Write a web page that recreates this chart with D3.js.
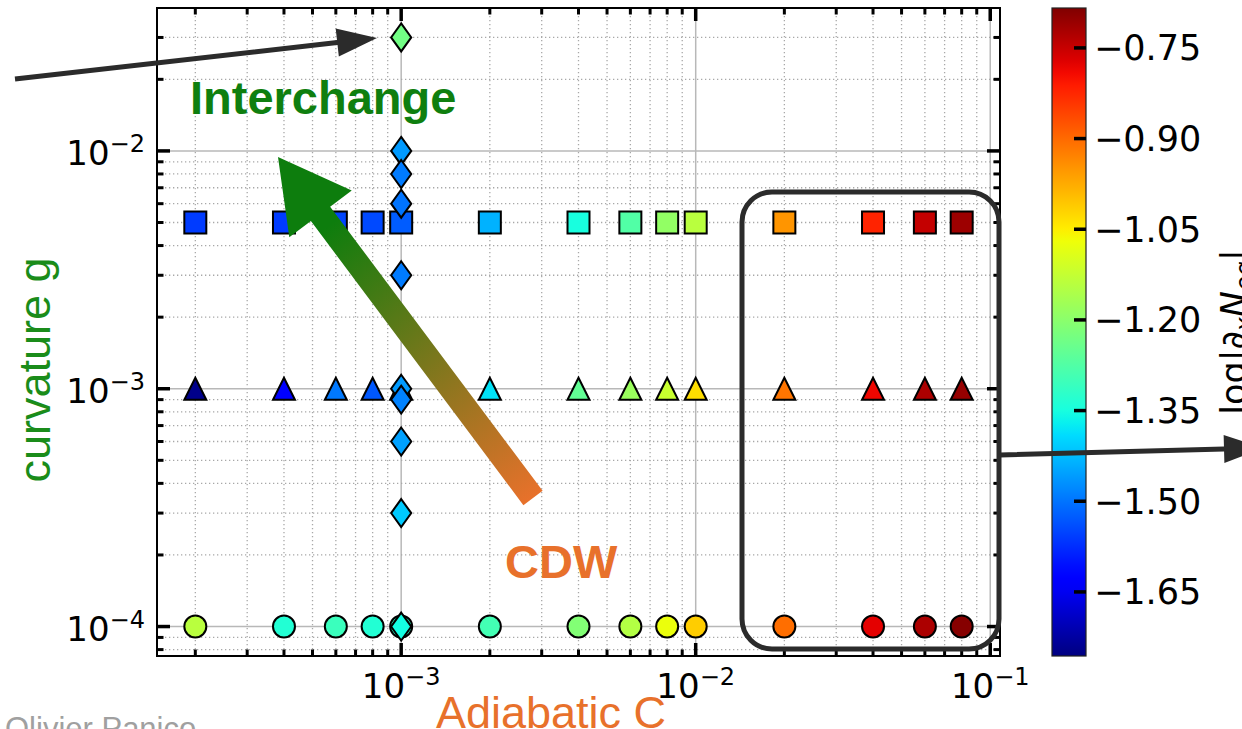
<!DOCTYPE html>
<html><head><meta charset="utf-8">
<script src="https://cdn.jsdelivr.net/npm/d3@7"></script>
<style>
html,body{margin:0;padding:0;background:#fff;overflow:hidden}
svg{display:block}
</style></head><body>
<svg id="chart" width="1242" height="729"></svg>
<script>
// Adiabatic parameter C scanned at each curvature level
const adiabaticC = [2e-4, 4e-4, 6e-4, 8e-4, 1e-3, 2e-3, 4e-3, 6e-3, 8e-3, 1e-2, 2e-2, 4e-2, 6e-2, 8e-2];
// curvature levels of the three C scans
const gSquares = 5e-3;
const gTriangles = 1e-3;
const gCircles = 1e-4;
// log|∂x N_eq| for each scan
const squareValues   = [-1.56, -1.56, -1.55, -1.545, -1.525, -1.435, -1.35, -1.275, -1.19, -1.14, -0.95, -0.82, -0.747, -0.711];
const triangleValues = [-1.745, -1.635, -1.495, -1.53, -1.48, -1.383, -1.253, -1.18, -1.12, -1.032, -0.913, -0.787, -0.725, -0.705];
const circleValues   = [-1.14, -1.336, -1.305, -1.336, -1.32, -1.294, -1.212, -1.148, -1.075, -1.013, -0.905, -0.777, -0.725, -0.69];
// curvature scan at fixed C
const diamondC = 1e-3;
const diamondG      = [3e-2, 1e-2, 8e-3, 6e-3, 3e-3, 1e-3, 9e-4, 6e-4, 3e-4, 1e-4];
const diamondValues = [-1.232, -1.46, -1.493, -1.5, -1.493, -1.46, -1.485, -1.453, -1.41, -1.355];
// axis ticks
const xMajorTicks = [1e-3, 1e-2, 1e-1];
const xTickExponents = ["\u22123", "\u22122", "\u22121"];
const yMajorTicks = [1e-4, 1e-3, 1e-2];
const yTickExponents = ["\u22124", "\u22123", "\u22122"];
const colorTicks = [-0.75, -0.90, -1.05, -1.20, -1.35, -1.50, -1.65];
const colorRange = [-1.756, -0.684];

const svg = d3.select("#chart");
const plot = {left: 157, right: 1000, top: 8, bottom: 656};
const cbar = {left: 1052, right: 1086};

// matplotlib-style 5% margins in log space
function logDomain(vals) {
  const e = d3.extent(vals).map(Math.log10);
  const pad = 0.05 * (e[1] - e[0]);
  return [Math.pow(10, e[0] - pad), Math.pow(10, e[1] + pad)];
}
const x = d3.scaleLog().domain(logDomain(adiabaticC)).range([plot.left, plot.right]);
const y = d3.scaleLog().domain(logDomain([gSquares, gTriangles, gCircles, ...diamondG])).range([plot.bottom, plot.top]);
const cy = d3.scaleLinear().domain(colorRange).range([plot.bottom, plot.top]);

// jet colormap
function seg(pts, t) {
  for (let i = 1; i < pts.length; i++) {
    if (t <= pts[i][0]) {
      const [t0, v0] = pts[i - 1], [t1, v1] = pts[i];
      return v0 + (v1 - v0) * (t - t0) / (t1 - t0);
    }
  }
  return pts[pts.length - 1][1];
}
function jet(t) {
  t = Math.max(0, Math.min(1, t));
  const r = seg([[0,0],[0.35,0],[0.66,1],[0.89,1],[1,0.5]], t);
  const g = seg([[0,0],[0.125,0],[0.375,1],[0.64,1],[0.91,0],[1,0]], t);
  const b = seg([[0,0.5],[0.11,1],[0.34,1],[0.65,0],[1,0]], t);
  return d3.rgb(r * 255, g * 255, b * 255).formatHex();
}
const norm = d3.scaleLinear().domain(colorRange).range([0, 1]);
const color = v => jet(norm(v));

// tick values (1..9 per decade) inside a log domain
function logTicks(scale) {
  const [a, b] = scale.domain();
  const out = [];
  for (let d = Math.floor(Math.log10(a)); d <= Math.ceil(Math.log10(b)); d++) {
    for (let k = 1; k <= 9; k++) {
      const v = k * Math.pow(10, d);
      if (v >= a && v <= b) out.push({v, major: k === 1});
    }
  }
  return out;
}
const xt = logTicks(x), yt = logTicks(y);

// grid
const grid = svg.append("g");
grid.selectAll(".gx").data(xt).join("line")
  .attr("x1", d => x(d.v)).attr("x2", d => x(d.v))
  .attr("y1", plot.top).attr("y2", plot.bottom)
  .attr("stroke", d => d.major ? "#b8b8b8" : "#a8a8a8")
  .attr("stroke-width", d => d.major ? 1.5 : 1.3)
  .attr("stroke-dasharray", d => d.major ? null : "1.3,2.7");
grid.selectAll(".gy").data(yt).join("line")
  .attr("y1", d => y(d.v)).attr("y2", d => y(d.v))
  .attr("x1", plot.left).attr("x2", plot.right)
  .attr("stroke", d => d.major ? "#b8b8b8" : "#a8a8a8")
  .attr("stroke-width", d => d.major ? 1.5 : 1.3)
  .attr("stroke-dasharray", d => d.major ? null : "1.3,2.7");

// marker shapes
const triangleUp = { draw(ctx, size) { const h = Math.sqrt(size) / 2;
  ctx.moveTo(0, -h); ctx.lineTo(h, h); ctx.lineTo(-h, h); ctx.closePath(); } };
const thinDiamond = { draw(ctx, size) { const h = Math.sqrt(size) / 2, w = h * 0.72;
  ctx.moveTo(0, -h); ctx.lineTo(w, 0); ctx.lineTo(0, h); ctx.lineTo(-w, 0); ctx.closePath(); } };

const series = [
  {type: d3.symbolSquare, size: 22 * 22, pts: adiabaticC.map((c, i) => ({c, g: gSquares, v: squareValues[i]}))},
  {type: triangleUp, size: 22 * 22, pts: adiabaticC.map((c, i) => ({c, g: gTriangles, v: triangleValues[i]}))},
  {type: d3.symbolCircle, size: Math.PI * 11 * 11, pts: adiabaticC.map((c, i) => ({c, g: gCircles, v: circleValues[i]}))},
  {type: thinDiamond, size: 28 * 28, pts: diamondG.map((g, i) => ({c: diamondC, g, v: diamondValues[i]}))}
];
const marks = svg.append("g");
series.forEach(s => {
  const sym = d3.symbol().type(s.type).size(s.size);
  marks.append("g").selectAll("path").data(s.pts).join("path")
    .attr("d", sym)
    .attr("transform", d => `translate(${x(d.c)},${y(d.g)})`)
    .attr("fill", d => color(d.v))
    .attr("stroke", "#000").attr("stroke-width", 2);
});

// frame and inward ticks on all sides
const ax = svg.append("g");
ax.append("rect").attr("x", plot.left).attr("y", plot.top)
  .attr("width", plot.right - plot.left).attr("height", plot.bottom - plot.top)
  .attr("fill", "none").attr("stroke", "#000").attr("stroke-width", 2);
const tlen = d => d.major ? 13 : 6.5;
const tw = d => d.major ? 3.5 : 3;
[plot.bottom, plot.top].forEach((yy, i) => {
  ax.append("g").selectAll("line").data(xt).join("line")
    .attr("x1", d => x(d.v)).attr("x2", d => x(d.v))
    .attr("y1", yy).attr("y2", d => i === 0 ? yy - tlen(d) : yy + tlen(d))
    .attr("stroke", "#000").attr("stroke-width", tw);
});
[plot.left, plot.right].forEach((xx, i) => {
  ax.append("g").selectAll("line").data(yt).join("line")
    .attr("y1", d => y(d.v)).attr("y2", d => y(d.v))
    .attr("x1", xx).attr("x2", d => i === 0 ? xx + tlen(d) : xx - tlen(d))
    .attr("stroke", "#000").attr("stroke-width", tw);
});

// tick labels
const tickFont = "'DejaVu Sans', sans-serif";
xMajorTicks.forEach((v, i) => {
  const t = ax.append("text").attr("x", x(v)).attr("y", 698)
    .attr("text-anchor", "middle").attr("font-family", tickFont).attr("font-size", 34);
  t.append("tspan").text("10");
  t.append("tspan").attr("font-size", 24).attr("dy", -13).text(xTickExponents[i]);
});
yMajorTicks.forEach((v, i) => {
  const t = ax.append("text").attr("x", 145).attr("y", y(v) + 14)
    .attr("text-anchor", "end").attr("font-family", tickFont).attr("font-size", 34);
  t.append("tspan").text("10");
  t.append("tspan").attr("font-size", 24).attr("dy", -13).text(yTickExponents[i]);
});

// axis titles
svg.append("text").attr("x", 551).attr("y", 728).attr("text-anchor", "middle")
  .attr("font-family", "'Liberation Sans', Arial, sans-serif").attr("font-size", 45)
  .attr("fill", "#e8712b").text("Adiabatic C");
svg.append("text").attr("transform", "translate(50,370) rotate(-90)").attr("text-anchor", "middle")
  .attr("font-family", "'Liberation Sans', Arial, sans-serif").attr("font-size", 45)
  .attr("fill", "#1a8c1a").text("curvature g");

// colorbar
const defs = svg.append("defs");
const cg = defs.append("linearGradient").attr("id", "jetbar")
  .attr("x1", 0).attr("y1", 1).attr("x2", 0).attr("y2", 0);
d3.range(0, 1.0001, 0.02).forEach(t => cg.append("stop").attr("offset", t).attr("stop-color", jet(t)));
svg.append("rect").attr("x", cbar.left).attr("y", plot.top)
  .attr("width", cbar.right - cbar.left).attr("height", plot.bottom - plot.top)
  .attr("fill", "url(#jetbar)").attr("stroke", "#222").attr("stroke-width", 1.2);
const fmt = d3.format(".2f");
const cb = svg.append("g");
cb.selectAll("line").data(colorTicks).join("line")
  .attr("x1", cbar.right - 12).attr("x2", cbar.right)
  .attr("y1", d => cy(d)).attr("y2", d => cy(d))
  .attr("stroke", "#000").attr("stroke-width", 3.5);
cb.selectAll("text").data(colorTicks).join("text")
  .attr("x", cbar.right + 8).attr("y", d => cy(d) + 12.5)
  .attr("font-family", tickFont).attr("font-size", 35)
  .text(d => fmt(d));
const cl = svg.append("text").attr("transform", `translate(1246,${(plot.top + plot.bottom) / 2}) rotate(-90)`)
  .attr("text-anchor", "middle").attr("font-family", tickFont).attr("font-size", 35);
cl.append("tspan").text("log|\u2202");
cl.append("tspan").attr("font-size", 24).attr("dy", 7).attr("font-style", "italic").text("x");
cl.append("tspan").attr("dy", -7).attr("font-style", "italic").text("N");
cl.append("tspan").attr("font-size", 24).attr("dy", 7).attr("font-style", "italic").text("eq");
cl.append("tspan").attr("dy", -7).text("|");

// annotations
const ann = svg.append("g");
ann.append("text").attr("x", 190).attr("y", 114)
  .attr("font-family", "'Liberation Sans', Arial, sans-serif").attr("font-weight", "bold")
  .attr("font-size", 47).attr("fill", "#0f7f0f").text("Interchange");

// green-to-orange trend arrow
function arrowPolygon(x0, y0, x1, y1, shaftHalf, headLen, headHalf) {
  const L = Math.hypot(x1 - x0, y1 - y0), ux = (x1 - x0) / L, uy = (y1 - y0) / L;
  const px = -uy, py = ux;
  const bx = x1 - ux * headLen, by = y1 - uy * headLen;
  return [
    [x0 + px * shaftHalf, y0 + py * shaftHalf],
    [bx + px * shaftHalf, by + py * shaftHalf],
    [bx + px * headHalf, by + py * headHalf],
    [x1, y1],
    [bx - px * headHalf, by - py * headHalf],
    [bx - px * shaftHalf, by - py * shaftHalf],
    [x0 - px * shaftHalf, y0 - py * shaftHalf]
  ];
}
const trend = {x0: 533, y0: 498, x1: 278, y1: 157};
const tg = defs.append("linearGradient").attr("id", "trend").attr("gradientUnits", "userSpaceOnUse")
  .attr("x1", trend.x1).attr("y1", trend.y1).attr("x2", trend.x0).attr("y2", trend.y0);
tg.append("stop").attr("offset", 0).attr("stop-color", "#0d7d0d");
tg.append("stop").attr("offset", 0.2).attr("stop-color", "#0d7d0d");
tg.append("stop").attr("offset", 1).attr("stop-color", "#e8712b");
ann.append("path")
  .attr("d", d3.line()(arrowPolygon(trend.x0, trend.y0, trend.x1, trend.y1, 12, 71, 39)) + "Z")
  .attr("fill", "url(#trend)");

ann.append("text").attr("x", 505).attr("y", 578)
  .attr("font-family", "'Liberation Sans', Arial, sans-serif").attr("font-weight", "bold")
  .attr("font-size", 47).attr("fill", "#e8712b").text("CDW");

// high-C region box
ann.append("rect").attr("x", 742).attr("y", 192).attr("width", 257).attr("height", 457)
  .attr("rx", 30).attr("ry", 30).attr("fill", "none")
  .attr("stroke", "#2b2b2b").attr("stroke-width", 5);

// black pointer arrows
function pointer(x0, y0, x1, y1) {
  ann.append("path").attr("d", d3.line()(arrowPolygon(x0, y0, x1, y1, 2.5, 40, 14)) + "Z")
    .attr("fill", "#2b2b2b");
}
pointer(15, 79, 377, 38);
pointer(1000, 455, 1264, 448);

svg.append("text").attr("x", 5).attr("y", 739)
  .attr("font-family", "'Liberation Sans', Arial, sans-serif").attr("font-size", 31)
  .attr("fill", "#a0a0a0").text("Olivier Panico");
</script>
</body></html>
